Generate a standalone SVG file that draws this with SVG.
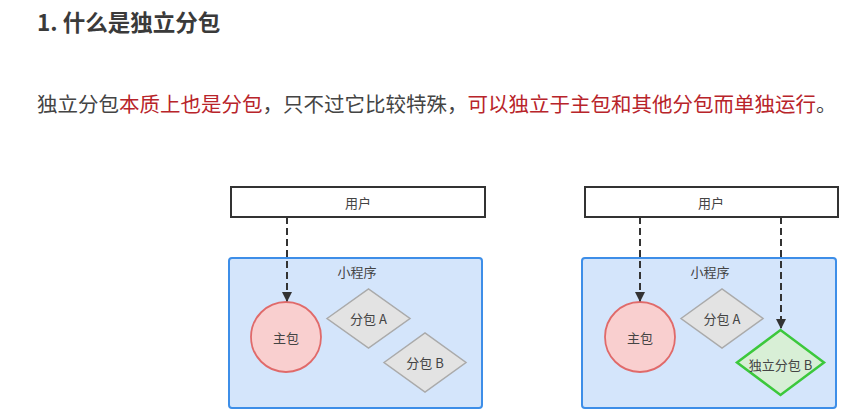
<svg xmlns="http://www.w3.org/2000/svg" width="844" height="416" viewBox="0 0 844 416">
<defs>
<marker id="ah" viewBox="0 0 10 10" refX="9" refY="5" markerWidth="5" markerHeight="5.5" orient="auto" markerUnits="strokeWidth">
<path d="M0,0 L10,5 L0,10 Z" fill="#333"/>
</marker>
<style>
.t{font-family:"Noto Sans CJK SC","Liberation Sans",sans-serif;}
.lbl{font-family:"Noto Sans CJK SC","Liberation Sans",sans-serif;font-size:13px;fill:#444;text-anchor:middle;dominant-baseline:central;}
.user{fill:#fff;stroke:#333;stroke-width:2;}
.app{fill:#d4e5fb;stroke:#3d8ee8;stroke-width:2;}
.main{fill:#f9cfcf;stroke:#e06a6a;stroke-width:1.8;}
.sub{fill:#e3e3e3;stroke:#aaa;stroke-width:1.5;}
.ind{fill:#d8efd6;stroke:#3cc83c;stroke-width:2.5;}
.edge{fill:none;stroke:#333;stroke-width:2;stroke-dasharray:7 4;marker-end:url(#ah);}
</style>
</defs>
<rect width="844" height="416" fill="#fff"/>
<text class="t" x="37" y="31" font-size="22.5" font-weight="bold" fill="#3a3a3a">1. 什么是独立分包</text>
<text class="t" x="37" y="112" font-size="20.5" fill="#444">独立分包<tspan fill="#b8242a">本质上也是分包</tspan>，只不过它比较特殊，<tspan fill="#b8242a">可以独立于主包和其他分包而单独运行</tspan>。</text>

<g id="left-user"><rect class="user" x="231" y="187" width="254" height="30"/><text class="lbl" x="358" y="202">用户</text></g>
<g id="left-app"><rect class="app" x="229" y="258" width="253" height="150" rx="3"/><text class="lbl" x="357" y="271">小程序</text></g>
<g id="left-main"><circle class="main" cx="286" cy="337" r="35"/><text class="lbl" x="286" y="337">主包</text></g>
<g id="left-subA"><polygon class="sub" points="327,318.5 368.5,289 410,318.5 368.5,348"/><text class="lbl" x="368.5" y="318.5">分包 A</text></g>
<g id="left-subB"><polygon class="sub" points="384,362.5 425,333 466,362.5 425,392"/><text class="lbl" x="425" y="362.5">分包 B</text></g>

<g id="right-user"><rect class="user" x="585" y="187" width="253" height="30"/><text class="lbl" x="711" y="202">用户</text></g>
<g id="right-app"><rect class="app" x="582" y="258" width="254" height="150" rx="3"/><text class="lbl" x="710" y="271">小程序</text></g>
<g id="right-main"><circle class="main" cx="640" cy="337" r="35"/><text class="lbl" x="640" y="337">主包</text></g>
<g id="right-subA"><polygon class="sub" points="681,318.5 722,289 763,318.5 722,348"/><text class="lbl" x="722" y="318.5">分包 A</text></g>
<g id="right-indB"><polygon class="ind" points="737,362.5 780.5,330 824,362.5 780.5,395"/><text class="lbl" x="780.5" y="364">独立分包 B</text></g>

<g id="connectors">
<path class="edge" d="M287,217 V301"/>
<path class="edge" d="M640,217 V301"/>
<path class="edge" d="M781,217 V328"/>
</g>
</svg>
